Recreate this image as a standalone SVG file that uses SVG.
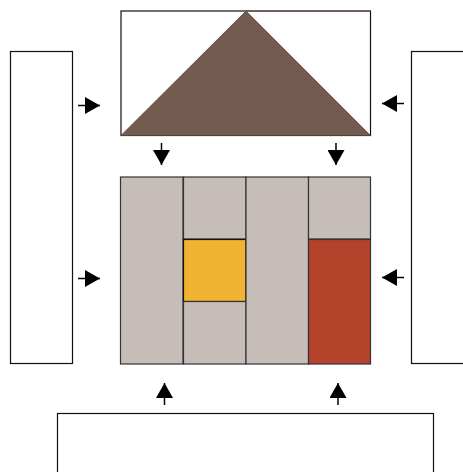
<svg xmlns="http://www.w3.org/2000/svg" width="463" height="472" viewBox="0 0 463 472">
<style>
.box{fill:#ffffff;stroke:#111;stroke-width:1.2}
.cell{fill:#c6bdb9;stroke:#333;stroke-width:1.2}
.yel{fill:#f0b432;stroke:#111;stroke-width:1.2}
.red{fill:#b5432c;stroke:#333;stroke-width:1.2}
.con{stroke:#000;stroke-width:1.5;fill:none;marker-end:url(#ah)}
</style>
<defs>
<marker id="ah" viewBox="0 0 10 10" refX="10" refY="5" markerWidth="15" markerHeight="17" markerUnits="userSpaceOnUse" orient="auto" preserveAspectRatio="none">
<path d="M0,0 L10,5 L0,10 z" fill="#000"/>
</marker>
</defs>
<rect width="463" height="472" fill="#ffffff"/>
<g id="roof">
<rect class="box" x="121" y="11" width="249.5" height="124.5"/>
<line x1="246" y1="11" x2="370.5" y2="11" stroke="#745b50" stroke-width="1.5"/>
<polygon points="121,135.5 246,11 370.5,135.5" fill="#745b50" stroke="#5a463e" stroke-width="0.8"/>
</g>
<g id="left">
<rect class="box" x="10.5" y="51.5" width="62" height="312"/>
</g>
<g id="right">
<rect class="box" x="411.5" y="51.5" width="60" height="312"/>
</g>
<g id="bottom">
<rect class="box" x="57.5" y="413.5" width="376" height="70"/>
</g>
<g id="col1"><rect class="cell" x="120.5" y="177" width="62.5" height="187"/></g>
<g id="col2">
<rect class="cell" x="183.5" y="177" width="62.5" height="62"/>
<rect class="yel" x="183.5" y="239.5" width="62.5" height="62"/>
<rect class="cell" x="183.5" y="301.5" width="62.5" height="62.5"/>
</g>
<g id="col3"><rect class="cell" x="246" y="177" width="62.5" height="187"/></g>
<g id="col4">
<rect class="cell" x="308.5" y="177" width="62" height="62"/>
<rect class="red" x="308.5" y="239.5" width="62" height="124.5"/>
</g>
<g id="connectors">
<line class="con" x1="161.5" y1="143" x2="161.5" y2="165"/>
<line class="con" x1="336" y1="143" x2="336" y2="165"/>
<line class="con" x1="78" y1="105.5" x2="100" y2="105.5"/>
<line class="con" x1="78" y1="278.5" x2="100" y2="278.5"/>
<line class="con" x1="404" y1="103.5" x2="382" y2="103.5"/>
<line class="con" x1="404" y1="277.5" x2="382" y2="277.5"/>
<line class="con" x1="164.5" y1="405" x2="164.5" y2="383"/>
<line class="con" x1="338" y1="405" x2="338" y2="383"/>
</g>
</svg>
